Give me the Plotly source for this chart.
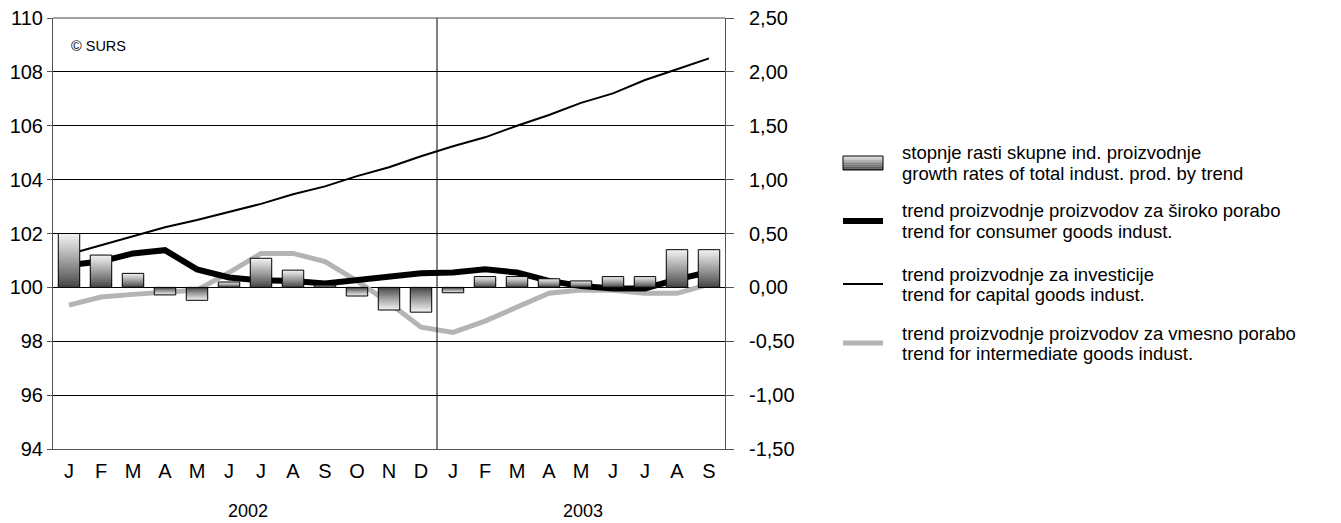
import plotly.graph_objects as go

months = ["J", "F", "M", "A", "M", "J", "J", "A", "S", "O", "N", "D",
          "J", "F", "M", "A", "M", "J", "J", "A", "S"]
years = ["2002"] * 12 + ["2003"] * 9
cats = [f"{y}-{i:02d}" for i, y in enumerate(years)]

growth_total = [0.50, 0.30, 0.13, -0.07, -0.12, 0.05, 0.27, 0.16, 0.02, -0.08, -0.21, -0.23,
                -0.05, 0.10, 0.10, 0.08, 0.06, 0.10, 0.10, 0.35, 0.35]
trend_consumer = [100.83, 100.96, 101.26, 101.38, 100.67, 100.37, 100.26, 100.24, 100.14, 100.26, 100.42, 100.52,
                  100.55, 100.67, 100.55, 100.24, 100.05, 99.96, 99.96, 100.30, 100.57]
trend_capital = [101.23, 101.56, 101.90, 102.23, 102.50, 102.80, 103.10, 103.46, 103.75, 104.13, 104.46, 104.87,
                 105.24, 105.57, 106.00, 106.40, 106.85, 107.20, 107.70, 108.10, 108.50]
trend_intermediate = [99.34, 99.64, 99.74, 99.83, 99.90, 100.55, 101.26, 101.26, 100.96, 100.24, 99.43, 98.52,
                      98.33, 98.75, 99.29, 99.78, 99.90, 99.89, 99.78, 99.78, 100.11]

left_ticks = [94, 96, 98, 100, 102, 104, 106, 108, 110]
right_tickvals = [-1.5, -1.0, -0.5, 0.0, 0.5, 1.0, 1.5, 2.0, 2.5]
right_ticktext = ["-1,50", "-1,00", "-0,50", "0,00", "0,50", "1,00", "1,50", "2,00", "2,50"]
year_labels = ["2002", "2003"]

legend_lines = [
    ("stopnje rasti skupne ind. proizvodnje", "growth rates of total indust. prod. by trend"),
    ("trend proizvodnje proizvodov za široko porabo", "trend for consumer goods indust."),
    ("trend proizvodnje za investicije", "trend for capital goods indust."),
    ("trend proizvodnje proizvodov za vmesno porabo", "trend for intermediate goods indust."),
]

FONT = "Liberation Sans, Arial, sans-serif"
OFF = 8  # page body margin
W, H = 1341 - OFF, 523 - OFF
# plot area in window pixels: x 53..725, y 18..449
L, T = 53 - OFF, 18 - OFF
R = W - (725 - OFF)
B = H - (449 - OFF)
PW, PH = W - L - R, H - T - B


def px(xw):
    return (xw - OFF - L) / PW


def py(yw):
    return 1 - (yw - OFF - T) / PH


fig = go.Figure()

# gradient bars: light at far end, dark near zero
n = 18
light, dark = 240, 60
for k in range(n):
    f = 1 - k / n
    c = int(dark + (light - dark) * (f ** 0.9))
    fig.add_trace(go.Bar(
        x=cats, y=[v * f for v in growth_total], yaxis="y2", width=0.67,
        marker=dict(color=f"rgb({c},{c},{c})", line=dict(width=0)),
        showlegend=False, hoverinfo="skip"))
fig.add_trace(go.Bar(
    x=cats, y=growth_total, yaxis="y2", width=0.67,
    marker=dict(color="rgba(0,0,0,0)", line=dict(color="black", width=1)),
    showlegend=False, name=legend_lines[0][1]))

fig.add_trace(go.Scatter(x=cats, y=trend_intermediate, mode="lines", name=legend_lines[3][1],
                         line=dict(color="#b4b4b4", width=5), showlegend=False))
fig.add_trace(go.Scatter(x=cats, y=trend_capital, mode="lines", name=legend_lines[2][1],
                         line=dict(color="black", width=2), showlegend=False))
fig.add_trace(go.Scatter(x=cats, y=trend_consumer, mode="lines", name=legend_lines[1][1],
                         line=dict(color="black", width=6), showlegend=False))

# divider between years and top border line
fig.add_shape(type="line", xref="x", yref="paper", x0=11.5, x1=11.5, y0=0, y1=1,
              line=dict(color="black", width=1))
fig.add_shape(type="line", xref="paper", yref="paper", x0=0, x1=1, y0=1, y1=1,
              line=dict(color="#444", width=1))

# manual legend
icon_y = [163, 221, 284, 343]
ix0, ix1 = 843, 883
steps = 8
top, bot = icon_y[0] - 7, icon_y[0] + 7
for s in range(steps):
    y0 = top + (bot - top) * s / steps
    y1 = top + (bot - top) * (s + 1) / steps
    c = int(225 - (225 - 70) * s / (steps - 1))
    fig.add_shape(type="rect", xref="paper", yref="paper", x0=px(ix0), x1=px(ix1),
                  y0=py(y1), y1=py(y0), fillcolor=f"rgb({c},{c},{c})", line=dict(width=0), layer="above")
fig.add_shape(type="rect", xref="paper", yref="paper", x0=px(ix0), x1=px(ix1),
              y0=py(bot), y1=py(top), line=dict(color="black", width=1), layer="above")
for yy, col, wd in [(icon_y[1], "black", 6), (icon_y[2], "black", 2), (icon_y[3], "#b4b4b4", 5)]:
    fig.add_shape(type="line", xref="paper", yref="paper", x0=px(ix0), x1=px(ix1),
                  y0=py(yy), y1=py(yy), line=dict(color=col, width=wd))
for yy, (l1, l2) in zip(icon_y, legend_lines):
    for txt, dy in [(l1, -10), (l2, 10)]:
        fig.add_annotation(text=txt, xref="paper", yref="paper", x=px(900), y=py(yy + dy),
                           xanchor="left", yanchor="middle", showarrow=False,
                           font=dict(family=FONT, size=18.5, color="black"))

fig.add_annotation(text="© SURS", xref="paper", yref="paper", x=px(69), y=py(46),
                   xanchor="left", yanchor="middle", showarrow=False,
                   font=dict(family=FONT, size=14.5, color="black"))
for yr, xc in zip(year_labels, [248, 583]):
    fig.add_annotation(text=yr, xref="paper", yref="paper", x=px(xc), y=py(511),
                       xanchor="center", yanchor="middle", showarrow=False,
                       font=dict(family=FONT, size=18, color="black"))

fig.update_layout(
    width=W, height=H,
    margin=dict(l=L, r=R, t=T, b=B, autoexpand=False),
    paper_bgcolor="white", plot_bgcolor="white",
    barmode="overlay",
    font=dict(family=FONT, size=18, color="black"),
    showlegend=False,
    xaxis=dict(type="category", tickmode="array", tickvals=cats, ticktext=months,
               showline=True, linecolor="#555", linewidth=1, ticks="",
               showgrid=False, automargin=False, ticklabelstandoff=4,
               tickfont=dict(family="Liberation Sans Narrow, Arial Narrow, Liberation Sans, sans-serif", size=20),
               range=[-0.5, 20.5], fixedrange=True),
    yaxis=dict(range=[94, 110], tickmode="array", tickvals=left_ticks,
               showgrid=True, gridcolor="black", gridwidth=1, automargin=False,
               showline=True, linecolor="#555", linewidth=1, ticks="outside", ticklen=5,
               tickcolor="#555", zeroline=False, tickfont=dict(size=20), ticklabelstandoff=0,
               ticklabeloverflow="allow"),
    yaxis2=dict(range=[-1.5, 2.5], tickmode="array", tickvals=right_tickvals, ticktext=right_ticktext,
                overlaying="y", side="right", automargin=False,
                showgrid=False, zeroline=False, showline=True, linecolor="#555", linewidth=1,
                ticks="outside", ticklen=8, tickcolor="#555",
                tickfont=dict(size=20), ticklabelstandoff=11, ticklabeloverflow="allow"),
)

fig.write_html("out.html")
